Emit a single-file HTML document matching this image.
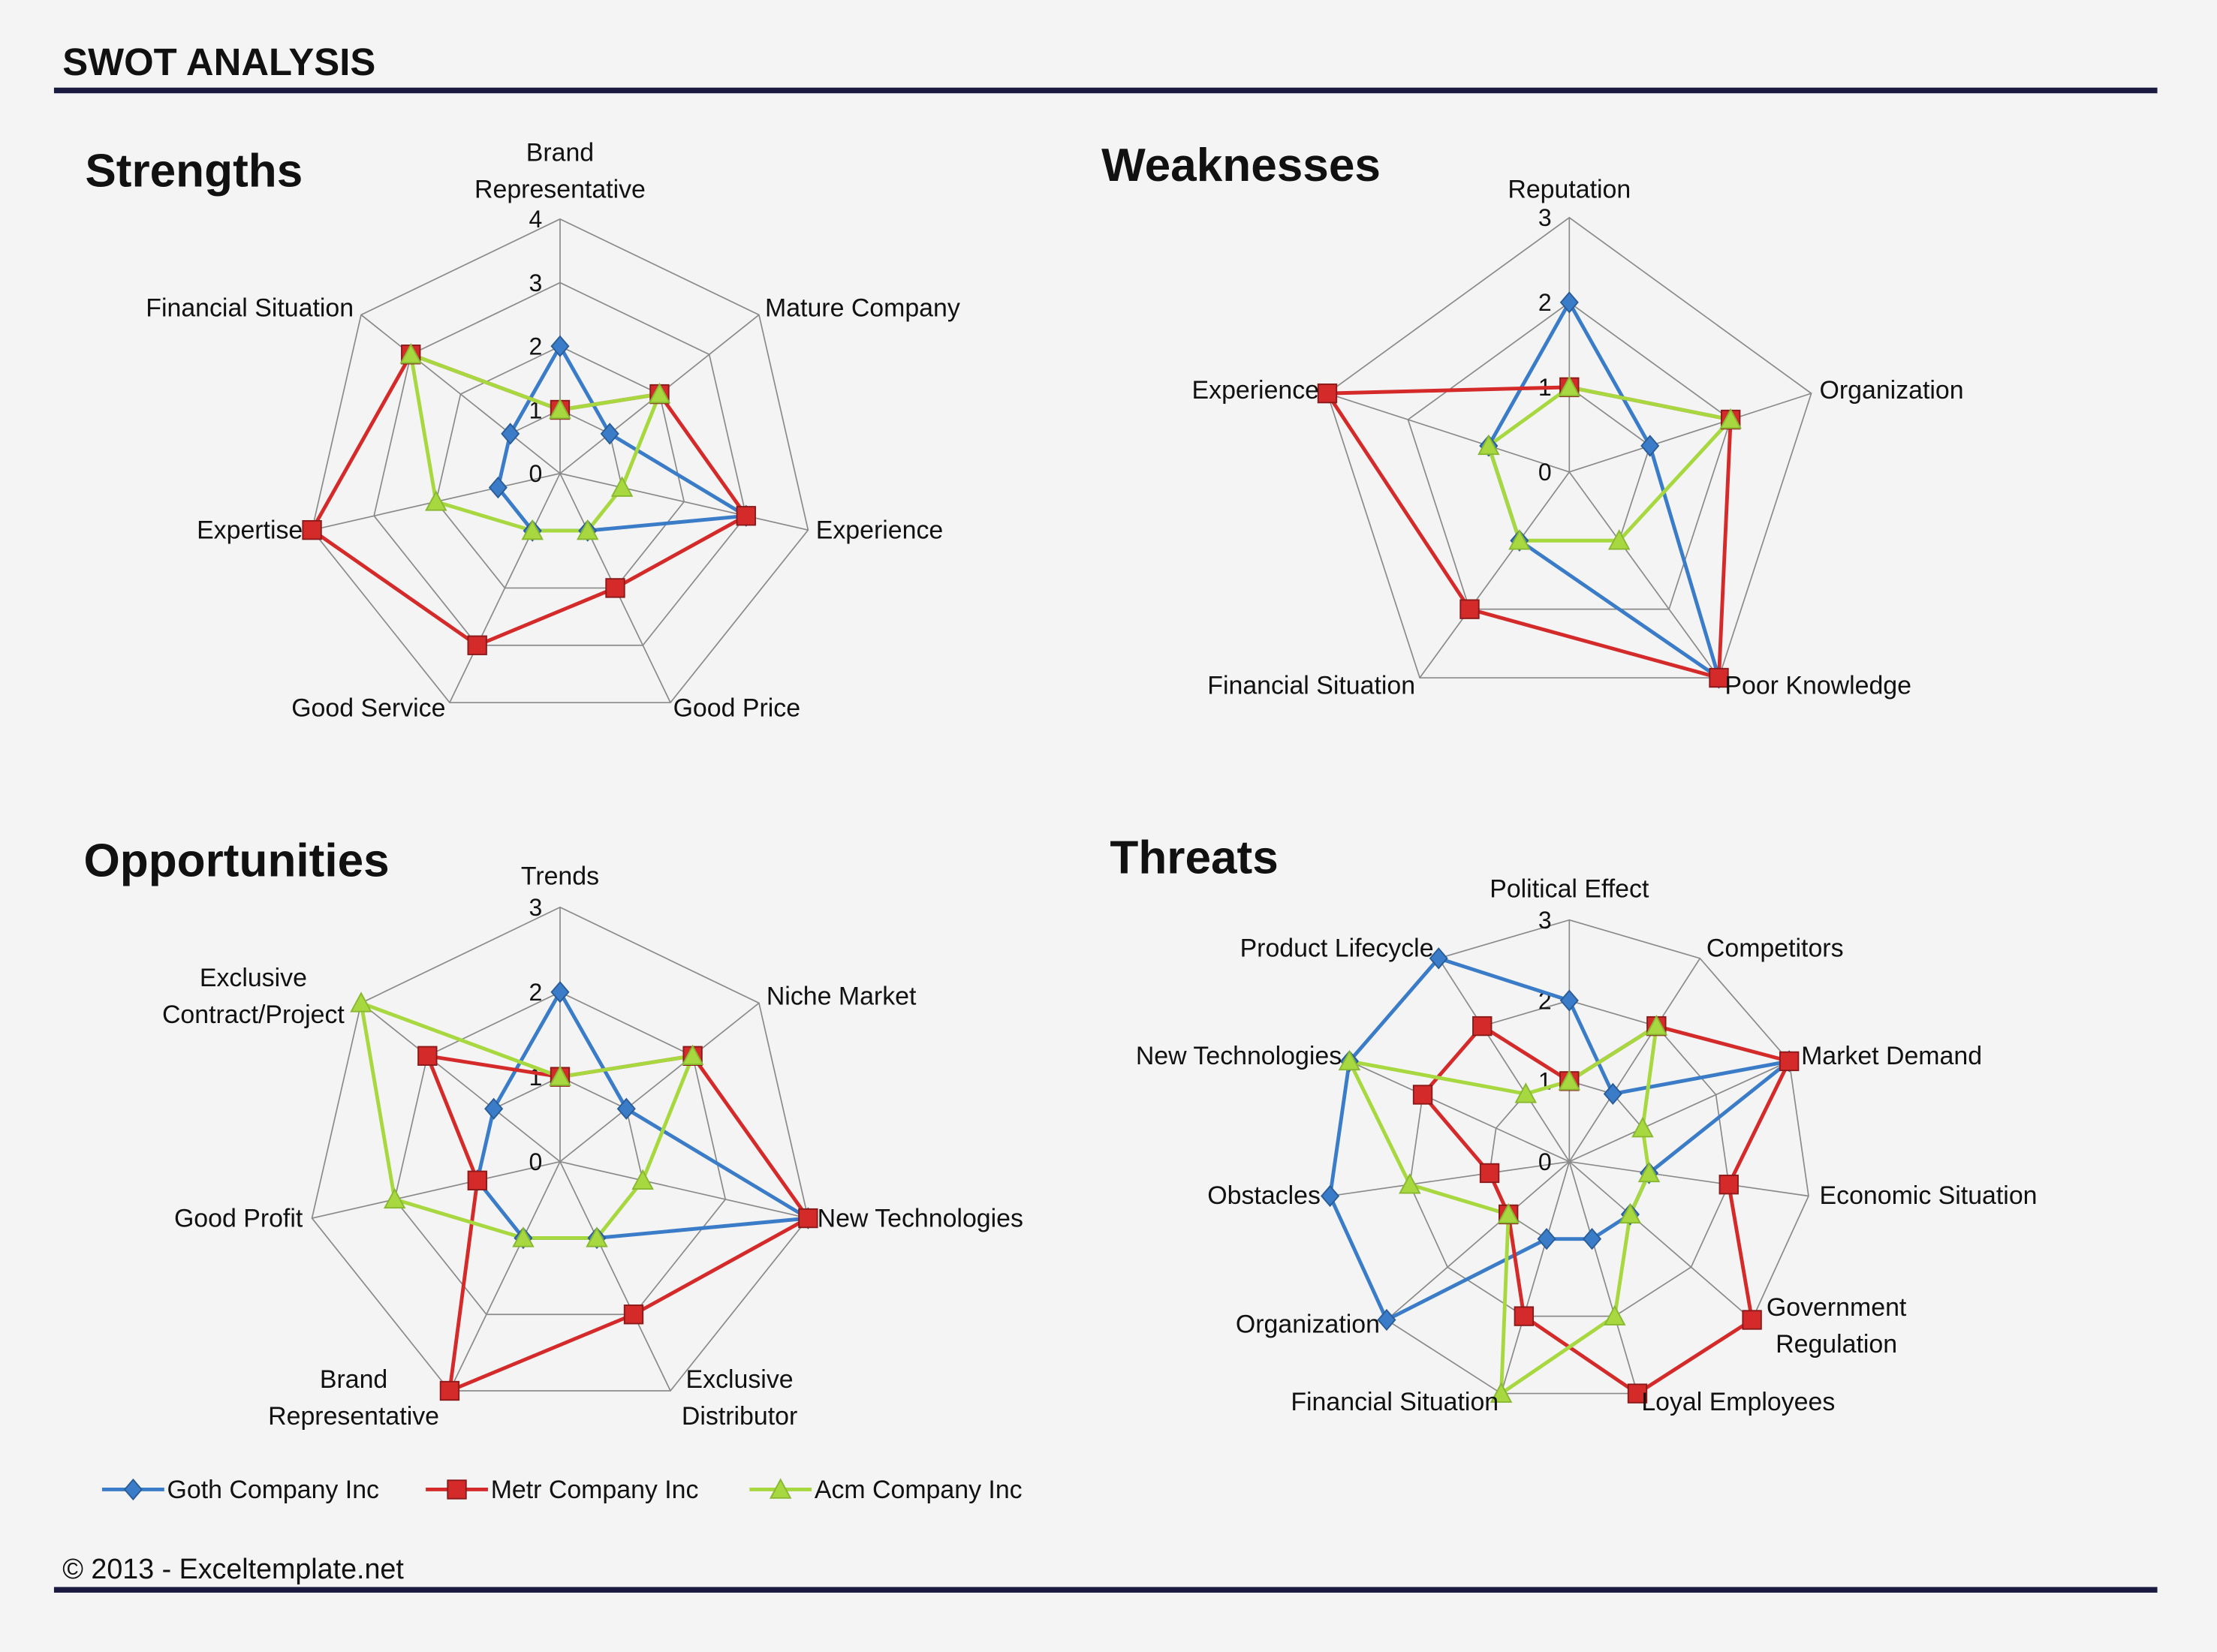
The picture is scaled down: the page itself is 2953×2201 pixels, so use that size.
<!DOCTYPE html>
<html><head><meta charset="utf-8"><style>
html,body{margin:0;padding:0;background:#f4f4f4;}
svg{display:block;}
text{font-family:"Liberation Sans",Calibri,sans-serif;fill:#111;}
</style></head><body>
<svg id="s" width="2953" height="2201" viewBox="0 0 1568 1169" xmlns="http://www.w3.org/2000/svg">
<rect width="1568" height="1169" fill="#f4f4f4"/>
<text x="44" y="53" font-size="27" font-weight="bold">SWOT ANALYSIS</text>
<rect x="38" y="62" width="1488" height="4" fill="#1a1a40"/>
<rect x="38" y="1123" width="1488" height="4" fill="#1a1a40"/>
<text x="44" y="1117" font-size="20">© 2013 - Exceltemplate.net</text>
<text x="60" y="132" font-size="33" font-weight="bold">Strengths</text>
<text x="779" y="128" font-size="33" font-weight="bold">Weaknesses</text>
<text x="59" y="620" font-size="33" font-weight="bold">Opportunities</text>
<text x="785" y="618" font-size="33" font-weight="bold">Threats</text>
<g id="charts"></g>
<g font-size="18">
<text x="396" y="114" text-anchor="middle">Brand</text>
<text x="396" y="140" text-anchor="middle">Representative</text>
<text x="541" y="224">Mature Company</text>
<text x="577" y="381">Experience</text>
<text x="476" y="507">Good Price</text>
<text x="315" y="507" text-anchor="end">Good Service</text>
<text x="214" y="381" text-anchor="end">Expertise</text>
<text x="250" y="224" text-anchor="end">Financial Situation</text>

<text x="1110" y="140" text-anchor="middle">Reputation</text>
<text x="1287" y="282">Organization</text>
<text x="1220" y="491">Poor Knowledge</text>
<text x="1001" y="491" text-anchor="end">Financial Situation</text>
<text x="933" y="282" text-anchor="end">Experience</text>

<text x="396" y="626" text-anchor="middle">Trends</text>
<text x="542" y="711">Niche Market</text>
<text x="578" y="868">New Technologies</text>
<text x="523" y="982" text-anchor="middle">Exclusive</text>
<text x="523" y="1008" text-anchor="middle">Distributor</text>
<text x="250" y="982" text-anchor="middle">Brand</text>
<text x="250" y="1008" text-anchor="middle">Representative</text>
<text x="214" y="868" text-anchor="end">Good Profit</text>
<text x="179" y="698" text-anchor="middle">Exclusive</text>
<text x="179" y="724" text-anchor="middle">Contract/Project</text>

<text x="1110" y="635" text-anchor="middle">Political Effect</text>
<text x="1207" y="677">Competitors</text>
<text x="1274" y="753">Market Demand</text>
<text x="1287" y="852">Economic Situation</text>
<text x="1299" y="931" text-anchor="middle">Government</text>
<text x="1299" y="957" text-anchor="middle">Regulation</text>
<text x="1161" y="998">Loyal Employees</text>
<text x="1060" y="998" text-anchor="end">Financial Situation</text>
<text x="976" y="943" text-anchor="end">Organization</text>
<text x="934" y="852" text-anchor="end">Obstacles</text>
<text x="949" y="753" text-anchor="end">New Technologies</text>
<text x="1014" y="677" text-anchor="end">Product Lifecycle</text>

<text x="118" y="1060">Goth Company Inc</text>
<text x="347" y="1060">Metr Company Inc</text>
<text x="576" y="1060">Acm Company Inc</text>
</g>
<g id="legend"></g>
</svg>
<script>
var NS="http://www.w3.org/2000/svg";
var B="#3a7cc8",R="#d42a2a",G="#a8d840";
function el(p,t,a){var e=document.createElementNS(NS,t);for(var k in a)e.setAttribute(k,a[k]);p.appendChild(e);return e;}
var g=document.getElementById("charts");
function pt(cx,cy,step,n,i,v){var a=i*2*Math.PI/n;return [cx+Math.sin(a)*v*step,cy-Math.cos(a)*v*step];}
function marker(p,x,y,c){
 if(c==B){el(p,"polygon",{points:(x)+","+(y-7)+" "+(x+6)+","+y+" "+x+","+(y+7)+" "+(x-6)+","+y,fill:B,stroke:"#2a5c98","stroke-width":1});}
 else if(c==R){el(p,"rect",{x:x-6.5,y:y-6.5,width:13,height:13,fill:R,stroke:"#8a1a1a","stroke-width":1});}
 else {el(p,"polygon",{points:x+","+(y-7)+" "+(x+7)+","+(y+6)+" "+(x-7)+","+(y+6),fill:G,stroke:"#88b830","stroke-width":1});}
}
function chart(cx,cy,step,max,n,series,labelDx){
 for(var l=1;l<=max;l++){var ps=[];for(var i=0;i<n;i++)ps.push(pt(cx,cy,step,n,i,l).join(","));
  el(g,"polygon",{points:ps.join(" "),fill:"none",stroke:"#8a8a8a","stroke-width":0.9});}
 for(var i=0;i<n;i++){var p=pt(cx,cy,step,n,i,max);el(g,"line",{x1:cx,y1:cy,x2:p[0],y2:p[1],stroke:"#8a8a8a","stroke-width":0.9});}
 for(var l=0;l<=max;l++){var t=el(g,"text",{x:cx-22,y:cy-l*step+6,"font-size":17});t.textContent=l;}
 series.forEach(function(s){var ps=[];for(var i=0;i<n;i++)ps.push(pt(cx,cy,step,n,i,s[1][i]));
  el(g,"polygon",{points:ps.map(function(q){return q.join(",")}).join(" "),fill:"none",stroke:s[0],"stroke-width":2.6});
  s.pts=ps;});
 series.forEach(function(s){s.pts.forEach(function(q){marker(g,q[0],q[1],s[0]);});});
}
chart(396,335,45,4,7,[[B,[2,1,3,1,1,1,1]],[R,[1,2,3,2,3,4,3]],[G,[1,2,1,1,1,2,3]]]);
chart(1110,334,60,3,5,[[B,[2,1,3,1,1]],[R,[1,2,3,2,3]],[G,[1,2,1,1,1]]]);
chart(396,822,60,3,7,[[B,[2,1,3,1,1,1,1]],[R,[1,2,3,2,3,1,2]],[G,[1,2,1,1,1,2,3]]]);
chart(1110,822,57,3,11,[[B,[2,1,3,1,1,1,1,3,3,3,3]],[R,[1,2,3,2,3,3,2,1,1,2,2]],[G,[1,2,1,1,1,2,3,1,2,3,1]]]);
var lg=document.getElementById("legend");
[[B,72],[R,301],[G,530]].forEach(function(a){el(lg,"line",{x1:a[1],y1:1054,x2:a[1]+44,y2:1054,stroke:a[0],"stroke-width":2.6});marker(lg,a[1]+22,1054,a[0]);});
</script>
</body></html>
